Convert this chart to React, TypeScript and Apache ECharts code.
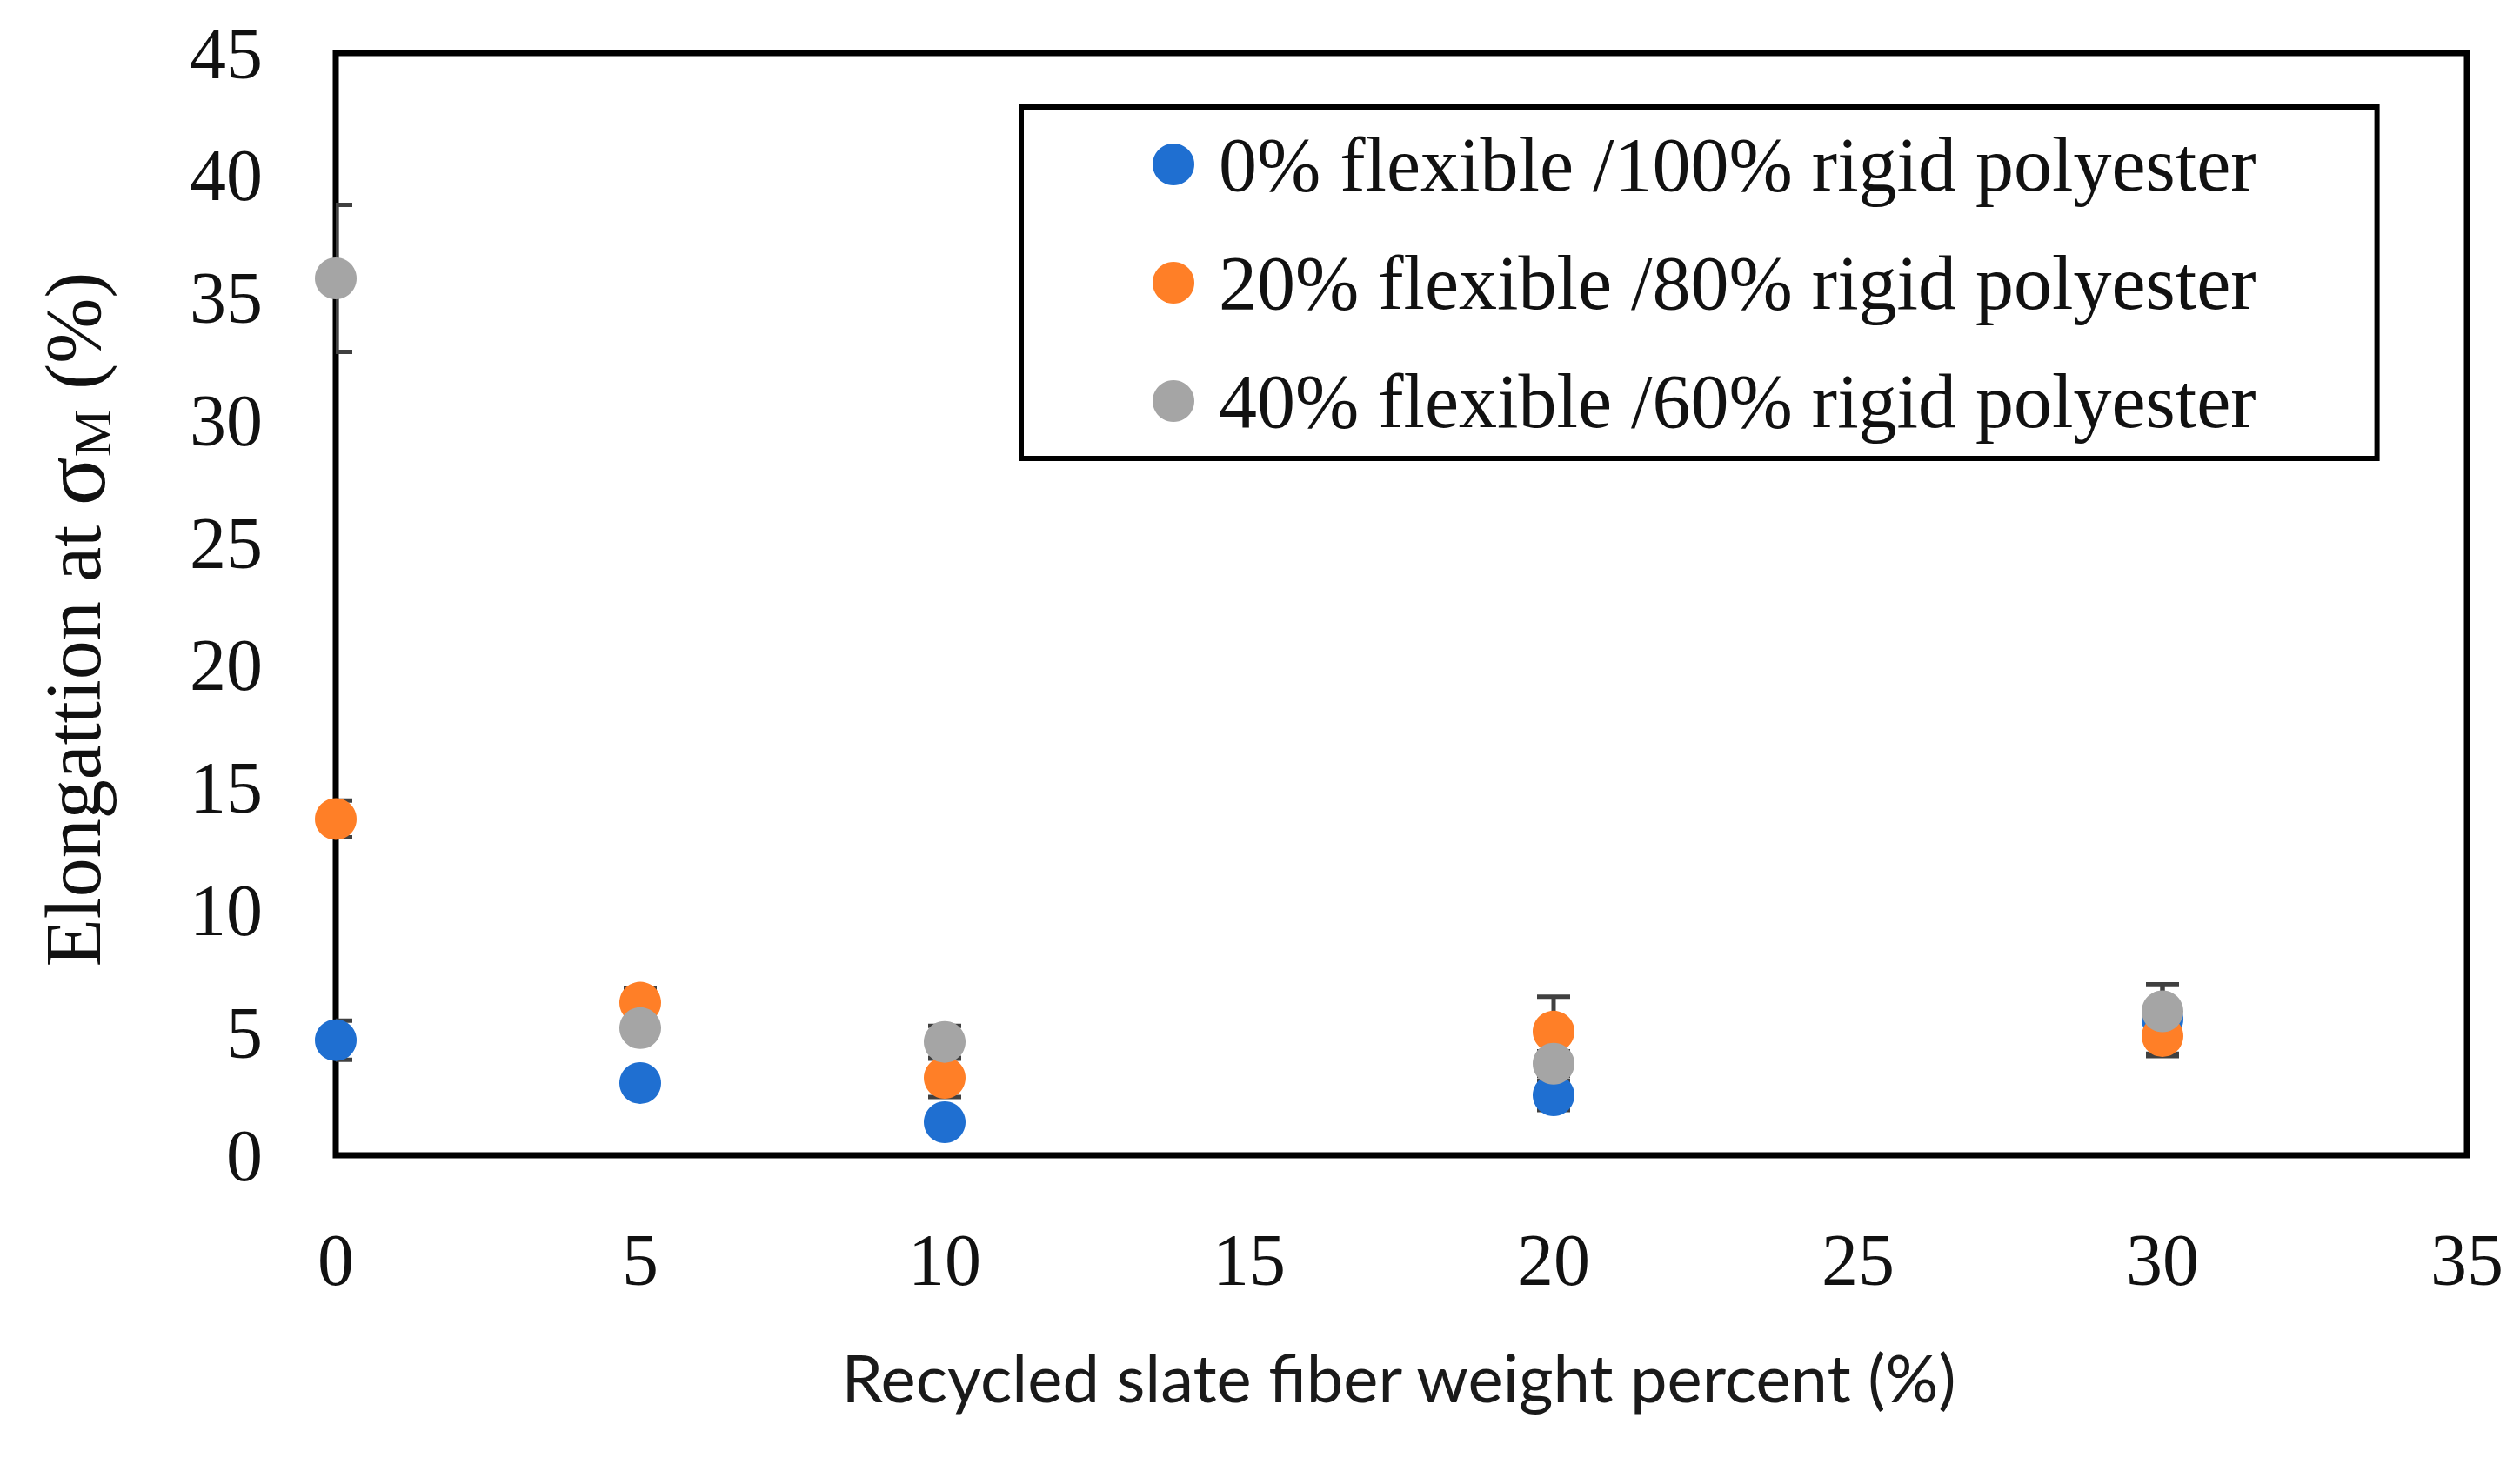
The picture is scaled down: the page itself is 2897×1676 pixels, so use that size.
import React, { useEffect, useRef } from "react";
import * as echarts from "echarts";

const xValues = [0, 5, 10, 20, 30];
const seriesNames = [
  "0% flexible /100% rigid polyester",
  "20% flexible /80% rigid polyester",
  "40% flexible /60% rigid polyester",
];
const rigid100 = [4.7, 2.95, 1.35, 2.45, 5.55];
const rigid100Err = [0.8, 0.3, 0.3, 0.6, 1.4];
const rigid80 = [13.73, 6.23, 3.16, 5.05, 4.87];
const rigid80Err = [0.75, 0.6, 0.78, 1.42, 0.82];
const rigid60 = [35.8, 5.19, 4.63, 3.74, 5.88];
const rigid60Err = [3.0, 0.4, 0.65, 0.5, 1.1];
const colors = ["#1F6FD1", "#FF7F27", "#A5A5A5"];

const xTitle = "Recycled slate fiber weight percent (%)";

export default function App() {
  const ref = useRef<HTMLDivElement>(null);
  useEffect(() => {
    if (!ref.current) return;
    const chart = echarts.init(ref.current, undefined, { renderer: "svg" });
    const vals = [rigid100, rigid80, rigid60];
    const errs = [rigid100Err, rigid80Err, rigid60Err];

    const errSeries = vals.map((v, s) => ({
      type: "custom",
      name: "err" + s,
      z: 2,
      silent: true,
      clip: true,
      data: xValues.map((x, i) => [x, v[i] - errs[s][i], v[i] + errs[s][i]]),
      encode: { x: 0, y: [1, 2] },
      renderItem: (params: any, api: any) => {
        const lo = api.coord([api.value(0), api.value(1)]);
        const hi = api.coord([api.value(0), api.value(2)]);
        const w = 19;
        const style = { stroke: "#404040", lineWidth: 5 };
        return {
          type: "group",
          children: [
            { type: "line", shape: { x1: hi[0], y1: hi[1], x2: lo[0], y2: lo[1] }, style },
            { type: "line", shape: { x1: hi[0] - w, y1: hi[1], x2: hi[0] + w, y2: hi[1] }, style },
            { type: "line", shape: { x1: lo[0] - w, y1: lo[1], x2: lo[0] + w, y2: lo[1] }, style },
          ],
        };
      },
    }));

    const scatterSeries = vals.map((v, s) => ({
      type: "scatter",
      name: seriesNames[s],
      z: 3,
      symbol: "circle",
      symbolSize: 48,
      itemStyle: { color: colors[s], opacity: 1 },
      data: xValues.map((x, i) => [x, v[i]]),
    }));

    const labelFont = "Liberation Serif";

    chart.setOption({
      animation: false,
      backgroundColor: "#fff",
      color: colors,
      grid: {
        show: true,
        left: 386,
        right: 61,
        top: 61,
        bottom: 348,
        borderColor: "#000",
        borderWidth: 7,
        backgroundColor: "transparent",
      },
      xAxis: {
        type: "value",
        min: 0,
        max: 35,
        interval: 5,
        axisLine: { show: false },
        axisTick: { show: false },
        splitLine: { show: false },
        axisLabel: {
          margin: 78,
          fontFamily: labelFont,
          fontSize: 84,
          color: "#111",
        },
      },
      yAxis: {
        type: "value",
        min: 0,
        max: 45,
        interval: 5,
        axisLine: { show: false },
        axisTick: { show: false },
        splitLine: { show: false },
        axisLabel: {
          margin: 84,
          fontFamily: labelFont,
          fontSize: 84,
          color: "#111",
        },
      },
      legend: {
        data: seriesNames,
        orient: "vertical",
        left: 1174,
        top: 123,
        padding: [22, 139, 22, 151],
        itemGap: 48,
        itemWidth: 48,
        itemHeight: 48,
        icon: "circle",
        borderColor: "#000",
        borderWidth: 6,
        backgroundColor: "#fff",
        textStyle: {
          fontFamily: labelFont,
          fontSize: 88,
          color: "#111",
          padding: [0, 0, 0, 23],
        },
      },
      graphic: [
        {
          type: "text",
          x: 84,
          y: 712,
          rotation: Math.PI / 2,
          style: {
            text: "{a|Elongattion at }{b|σ}{c|M}{a| (%)}",
            align: "center",
            verticalAlign: "middle",
            rich: {
              a: { fontFamily: labelFont, fontSize: 90, lineHeight: 106, fill: "#111", color: "#111" },
              b: { fontFamily: labelFont, fontSize: 104, lineHeight: 106, fill: "#111", color: "#111" },
              c: { fontFamily: labelFont, fontSize: 62, lineHeight: 62, verticalAlign: "bottom", fill: "#111", color: "#111" },
            },
          },
        },
        {
          type: "text",
          x: 1608,
          y: 1582,
          style: {
            text: xTitle,
            align: "center",
            verticalAlign: "middle",
            font: "76px Lato",
            fill: "#1a1a1a",
          },
        },
      ],
      series: [...errSeries, ...scatterSeries],
    });
    return () => chart.dispose();
  }, []);
  return (
    <div
      ref={ref}
      style={{ position: "absolute", left: 0, top: 0, width: 2897, height: 1676 }}
    />
  );
}
